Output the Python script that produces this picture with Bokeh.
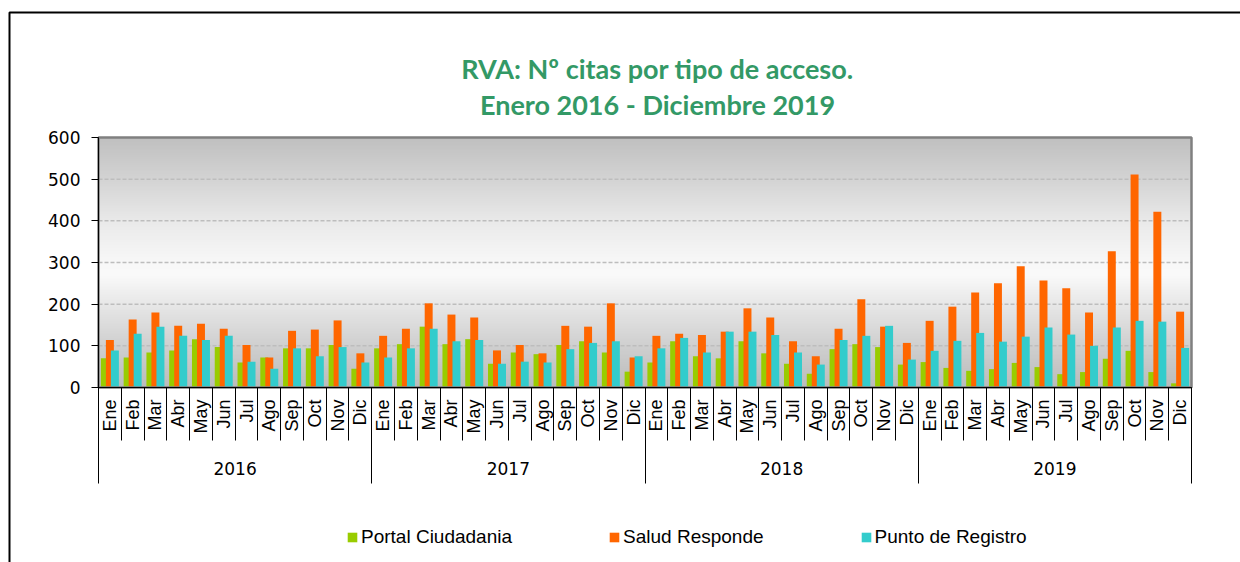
import math
import numpy as np
from bokeh.plotting import figure
from bokeh.models import (Range1d, FixedTicker, LabelSet, Label, ColumnDataSource,
                          Legend, LegendItem, LinearAxis)
from bokeh.transform import dodge
from bokeh.core.properties import value
from bokeh.embed import file_html
from bokeh.resources import INLINE

# ---------------- data ----------------
months = ["Ene", "Feb", "Mar", "Abr", "May", "Jun", "Jul", "Ago", "Sep", "Oct", "Nov", "Dic"]
years = ["2016", "2017", "2018", "2019"]
series_names = ["Portal Ciudadania", "Salud Responde", "Punto de Registro"]

portal = [70, 72, 84, 89, 116, 97, 60, 72, 94, 94, 102, 45,
          94, 104, 146, 104, 116, 57, 84, 80, 102, 111, 84, 38,
          60, 111, 75, 70, 111, 82, 57, 33, 92, 104, 97, 55,
          61, 47, 40, 44, 59, 49, 32, 37, 69, 88, 37, 10]
salud = [114, 163, 180, 148, 153, 141, 102, 72, 136, 139, 161, 82,
         124, 141, 202, 175, 168, 89, 102, 82, 148, 146, 202, 72,
         124, 129, 126, 134, 190, 168, 111, 75, 141, 212, 146, 107,
         160, 194, 228, 250, 291, 257, 238, 180, 327, 511, 422, 182]
punto = [89, 129, 146, 124, 114, 124, 62, 45, 94, 75, 97, 60,
         72, 94, 141, 111, 114, 57, 62, 60, 92, 107, 111, 75,
         94, 119, 84, 134, 134, 126, 84, 55, 114, 124, 148, 67,
         88, 112, 131, 110, 122, 144, 127, 100, 144, 160, 158, 95]
y_ticks = [0, 100, 200, 300, 400, 500, 600]

colors = ["#99cc00", "#ff6600", "#33cccc"]
title_color = "#339966"

n = len(portal)
idx = list(range(n))
src = ColumnDataSource(dict(x=idx, portal=portal, salud=salud, punto=punto))

# ---------------- layout geometry (pixels) ----------------
W, H = 1240, 562
PX_L, PX_R, PX_T, PX_B = 98, 1191, 137, 387
YMAX = y_ticks[-1]
sx = (PX_R - PX_L) / n
sy = (PX_B - PX_T) / YMAX


def dx(px):
    return -0.5 + (px - PX_L) / sx


def dy(py):
    return (PX_B - py) / sy


p = figure(width=W, height=H, output_backend="svg", toolbar_location=None,
           x_range=Range1d(dx(0), dx(W)), y_range=Range1d(dy(H), dy(0)),
           x_axis_location=None, y_axis_location=None, min_border=0)
p.border_fill_color = "white"
p.background_fill_color = "white"
p.outline_line_color = None
p.grid.visible = False

# background gradient of plot area (gray - white - gray)
stops_v = [0, 100, 200, 270, 300, 400, 500, 600]
stops_c = [188, 208, 232, 250, 248, 234, 212, 192]
rows = 300
vals = np.interp(np.linspace(0, YMAX, rows), stops_v, stops_c).astype(np.uint32)
img = np.empty((rows, 1), dtype=np.uint32)
img[:, 0] = (255 << 24) | (vals << 16) | (vals << 8) | vals
p.image_rgba(image=[img], x=-0.5, y=0, dw=n, dh=YMAX, level="image")

# dashed horizontal gridlines
gy = y_ticks[1:-1]
p.segment(x0=[-0.5] * len(gy), x1=[n - 0.5] * len(gy), y0=gy, y1=gy,
          line_color="#bdbdbd", line_dash="4 2", line_width=1.5)

# bars
bw = 0.35
r1 = p.vbar(x=dodge("x", -0.22, range=p.x_range), top="portal", width=bw, source=src,
            fill_color=colors[0], line_color=None)
r2 = p.vbar(x=dodge("x", 0.0, range=p.x_range), top="salud", width=bw, source=src,
            fill_color=colors[1], line_color=None)
r3 = p.vbar(x=dodge("x", 0.22, range=p.x_range), top="punto", width=bw, source=src,
            fill_color=colors[2], line_color=None)

# plot-area outline (gray)
p.line(x=[-0.5, -0.5, n - 0.5, n - 0.5, -0.5], y=[0, YMAX, YMAX, 0, 0],
       line_color="#808080", line_width=2.5)

# y axis
ya = LinearAxis(fixed_location=-0.5, bounds=(0, YMAX))
ya.ticker = FixedTicker(ticks=y_ticks)
ya.major_label_text_font = "DejaVu Sans"
ya.major_label_text_font_size = "17px"
ya.major_label_text_color = "#000000"
ya.major_tick_in = 0
ya.major_tick_out = 7
ya.minor_tick_line_color = None
ya.major_label_standoff = 11
ya.axis_line_color = "#000000"
ya.major_tick_line_color = "#000000"
p.add_layout(ya, "left")

# x axis: month / year separators as ticks
year_bounds = [i * 12 - 0.5 for i in range(len(years) + 1)]
month_bounds = [i - 0.5 for i in range(n + 1)]
xa = LinearAxis(fixed_location=0, bounds=(-0.5, n - 0.5))
xa.ticker = FixedTicker(ticks=year_bounds, minor_ticks=month_bounds)
xa.major_label_overrides = {t: "" for t in year_bounds}
xa.major_tick_in = 0
xa.major_tick_out = 96
xa.minor_tick_in = 0
xa.minor_tick_out = 53
xa.axis_line_color = "#000000"
xa.major_tick_line_color = "#000000"
xa.minor_tick_line_color = "#000000"
p.add_layout(xa, "below")

# month labels (vertical)
mlab = ColumnDataSource(dict(x=idx, y=[dy(399)] * n, text=months * len(years)))
p.add_layout(LabelSet(x="x", y="y", text="text", source=mlab, angle=math.pi / 2,
                      text_align="right", text_baseline="middle",
                      text_font=value("Liberation Sans"), text_font_size=value("18px"),
                      text_color="#000000"))
# year labels
ylab = ColumnDataSource(dict(x=[i * 12 + 5.5 for i in range(len(years))],
                             y=[dy(468)] * len(years), text=years))
p.add_layout(LabelSet(x="x", y="y", text="text", source=ylab,
                      text_align="center", text_baseline="middle",
                      text_font=value("DejaVu Sans"), text_font_size=value("17px"),
                      text_color="#000000"))

# two-line title
for txt, py in [("RVA: Nº citas por tipo de acceso.", 68), ("Enero 2016 - Diciembre 2019", 104)]:
    p.add_layout(Label(x=dx(657), y=dy(py), text=txt, text_font="Lato", text_font_style="bold",
                       text_font_size="27px", text_color=title_color,
                       text_align="center", text_baseline="alphabetic"))

# legend
legend = Legend(items=[LegendItem(label=series_names[0], renderers=[r1]),
                       LegendItem(label=series_names[1], renderers=[r2]),
                       LegendItem(label=series_names[2], renderers=[r3])],
                orientation="horizontal", location=(346, 14), spacing=96,
                glyph_width=12, glyph_height=12, label_standoff=3, padding=0, margin=0,
                border_line_color=None, background_fill_alpha=0,
                label_text_font="Liberation Sans", label_text_font_size="19px",
                label_text_color="#000000")
p.add_layout(legend)

# outer chart border (left and top edges)
p.line(x=[dx(9), dx(9), dx(W + 20)], y=[dy(H + 20), dy(12), dy(12)],
       line_color="#000000", line_width=2)

open("out.html", "w").write(file_html(p, INLINE))
